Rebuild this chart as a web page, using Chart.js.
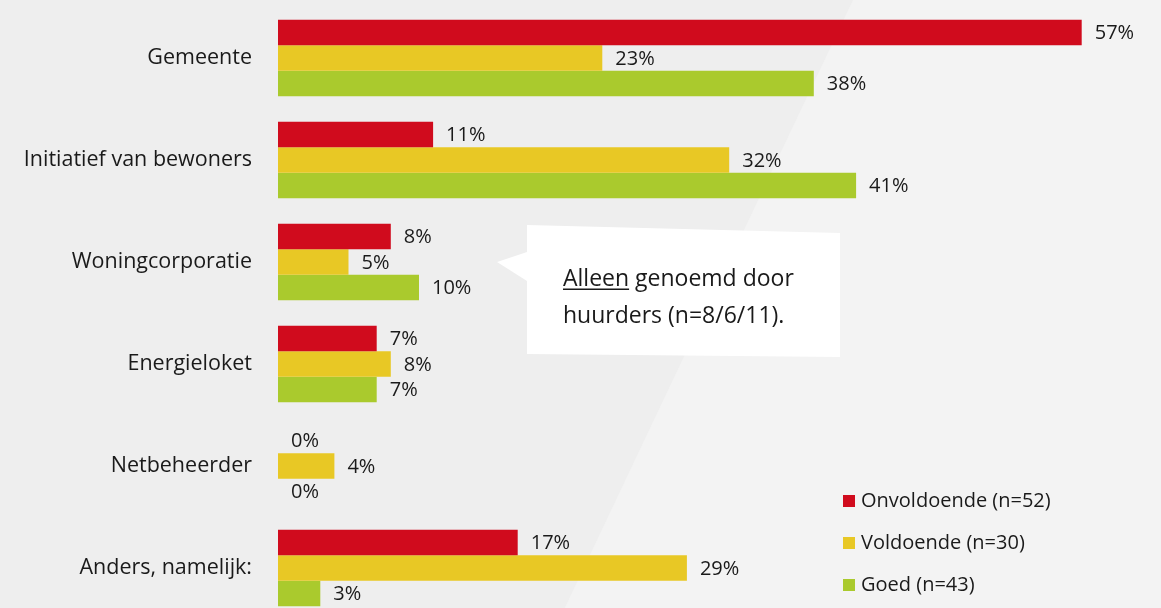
<!DOCTYPE html>
<html lang="nl">
<head>
<meta charset="utf-8">
<title>Genoemde partijen</title>
<script src="https://cdn.jsdelivr.net/npm/chart.js@4/dist/chart.umd.min.js"></script>
<style>
    html, body { margin: 0; padding: 0; overflow: hidden; background: #eeeeee; }
    #grafiek { display: block; }
</style>
</head>
<body>
<canvas id="grafiek" width="1161" height="620"></canvas>
<script>
// Data
const categorieen = ['Gemeente', 'Initiatief van bewoners', 'Woningcorporatie', 'Energieloket', 'Netbeheerder', 'Anders, namelijk:'];
const onvoldoende = [57, 11, 8, 7, 0, 17];
const voldoende = [23, 32, 5, 8, 4, 29];
const goed = [38, 41, 10, 7, 0, 3];
const reeksNamen = ['Onvoldoende (n=52)', 'Voldoende (n=30)', 'Goed (n=43)'];
const kleuren = ['#d00b1d', '#e8c825', '#aaca2d'];
const notitieRegels = ['Alleen', ' genoemd door', 'huurders (n=8/6/11).'];

const lettertype = '"Open Sans", sans-serif';

// Achtergrond met schuine lichtere vlak
const achtergrondPlugin = {
    id: 'achtergrond',
    beforeDraw(chart) {
        const ctx = chart.ctx;
        const w = chart.width, h = chart.height;
        ctx.save();
        ctx.fillStyle = '#eeeeee';
        ctx.fillRect(0, 0, w, h);
        ctx.fillStyle = '#f3f3f3';
        ctx.beginPath();
        ctx.moveTo(853, 0);
        ctx.lineTo(w, 0);
        ctx.lineTo(w, h);
        ctx.lineTo(853 - 0.474 * h, h);
        ctx.closePath();
        ctx.fill();
        ctx.restore();
    }
};

// Percentages naast de balken
const labelsPlugin = {
    id: 'waardeLabels',
    afterDatasetsDraw(chart) {
        const ctx = chart.ctx;
        ctx.save();
        ctx.font = '20px ' + lettertype;
        ctx.fillStyle = '#1a1a1a';
        ctx.textAlign = 'left';
        ctx.textBaseline = 'middle';
        chart.data.datasets.forEach((ds, i) => {
            chart.getDatasetMeta(i).data.forEach((bar, j) => {
                ctx.fillText(ds.data[j] + '%', bar.x + 13, bar.y + 1);
            });
        });
        ctx.restore();
    }
};

// Legenda rechtsonder
const legendaPlugin = {
    id: 'legenda',
    afterDraw(chart) {
        const ctx = chart.ctx;
        ctx.save();
        ctx.font = '20px ' + lettertype;
        ctx.textAlign = 'left';
        ctx.textBaseline = 'middle';
        chart.data.datasets.forEach((ds, i) => {
            const cy = 501 + i * 42;
            ctx.fillStyle = ds.backgroundColor;
            ctx.fillRect(843, cy - 6, 12, 12);
            ctx.fillStyle = '#1a1a1a';
            ctx.fillText(ds.label, 861, cy);
        });
        ctx.restore();
    }
};

// Witte tekstballon bij Woningcorporatie
const notitiePlugin = {
    id: 'notitie',
    afterDraw(chart) {
        const ctx = chart.ctx;
        ctx.save();
        ctx.fillStyle = '#ffffff';
        ctx.beginPath();
        ctx.moveTo(527, 225);
        ctx.lineTo(840, 233);
        ctx.lineTo(840, 357);
        ctx.lineTo(527, 354);
        ctx.lineTo(527, 281);
        ctx.lineTo(497, 262);
        ctx.lineTo(527, 252);
        ctx.closePath();
        ctx.fill();

        ctx.font = '23px ' + lettertype;
        ctx.fillStyle = '#1a1a1a';
        ctx.textAlign = 'left';
        ctx.textBaseline = 'alphabetic';
        const x = 563;
        ctx.fillText(notitieRegels[0], x, 286);
        const breedte = ctx.measureText(notitieRegels[0]).width;
        ctx.fillText(notitieRegels[1], x + breedte, 286);
        ctx.fillRect(x, 288.5, breedte, 1.5);
        ctx.fillText(notitieRegels[2], x, 323);
        ctx.restore();
    }
};

const ctx = document.getElementById('grafiek').getContext('2d');
new Chart(ctx, {
    type: 'bar',
    data: {
        labels: categorieen,
        datasets: [onvoldoende, voldoende, goed].map((waarden, i) => ({
            label: reeksNamen[i],
            data: waarden,
            backgroundColor: kleuren[i],
            borderWidth: 0,
            barPercentage: 1,
            categoryPercentage: 0.75
        }))
    },
    options: {
        indexAxis: 'y',
        responsive: false,
        animation: false,
        devicePixelRatio: 1,
        layout: {
            padding: { top: 7, bottom: 1, right: 37, left: 0 }
        },
        plugins: {
            legend: { display: false },
            tooltip: { enabled: false }
        },
        scales: {
            x: {
                display: false,
                min: 0,
                max: 60
            },
            y: {
                grid: { display: false, drawTicks: false },
                border: { display: false },
                ticks: {
                    color: '#1a1a1a',
                    padding: 26,
                    font: { family: lettertype, size: 21.5 }
                },
                afterFit(scale) {
                    // vaste breedte, geen extra ruimte boven/onder
                    scale.width = 278;
                    scale.paddingTop = 0;
                    scale.paddingBottom = 0;
                }
            }
        }
    },
    plugins: [achtergrondPlugin, labelsPlugin, legendaPlugin, notitiePlugin]
});
</script>
</body>
</html>
